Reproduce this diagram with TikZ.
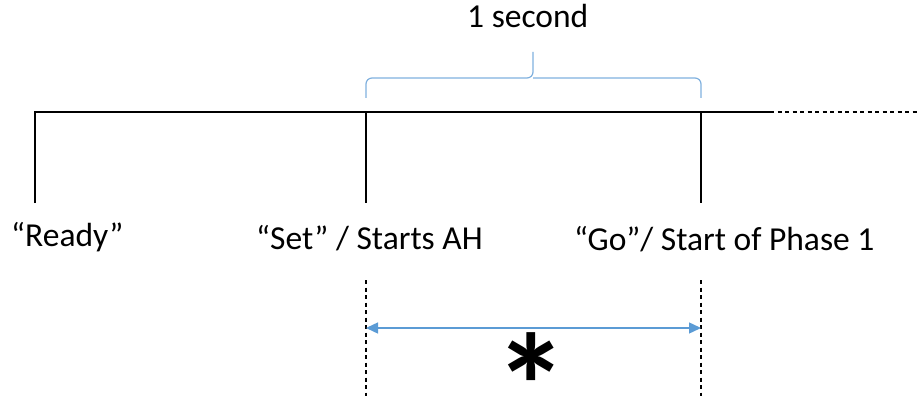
\documentclass[tikz,border=0pt]{standalone}
\usepackage{fontspec}
\setmainfont{Carlito}
\usetikzlibrary{arrows.meta}
\definecolor{obl}{HTML}{5B9BD5}
\definecolor{bbr}{HTML}{7FB0DE}
\tikzset{
  lbl/.style={inner sep=0pt, font=\fontsize{33.5}{36}\selectfont},
  tl/.style={draw=black, line width=1.3pt},
  dl/.style={draw=black, line width=1.1pt, dash pattern=on 4pt off 3.5pt},
  brace/.style={draw=bbr, line width=1.2pt, rounded corners=6pt},
  dim/.style={draw=obl, line width=1.4pt, {Triangle[length=12pt,width=11pt]}-{Triangle[length=12pt,width=11pt]}}
}
\begin{document}
\begin{tikzpicture}[x=1pt,y=-1pt]
\useasboundingbox (0,0) rectangle (919,396);
% timeline
\coordinate (L0) at (35,112);
\coordinate (L1) at (366,112);
\coordinate (L2) at (701,112);
\coordinate (L3) at (770,112);
\coordinate (L4) at (918,112);
\coordinate (B0) at (35,203);
\coordinate (B1) at (366,203);
\coordinate (B2) at (701,203);
\coordinate (D1a) at (366,280);
\coordinate (D1b) at (366,396);
\coordinate (D2a) at (701,280);
\coordinate (D2b) at (701,396);
\draw[tl] (B0) -- (L0) -- (L3);
\draw[dl] (L3) -- (L4);
\draw[tl] (L1) -- (B1);
\draw[tl] (L2) -- (B2);
\draw[dl] (D1a) -- (D1b);
\draw[dl] (D2a) -- (D2b);
% brace
\coordinate (bl) at (366,98);
\coordinate (br) at (701,98);
\coordinate (bt) at (533,52);
\draw[brace] (bl) -- (366,78) -- (533,78) -- (bt);
\draw[brace] (br) -- (701,78) -- (533,78);
\node[lbl, anchor=base west] (sec) at (467,28) {1 second};
% labels
\node[lbl, anchor=base west] (ready) at (11,246) {“Ready”};
\node[lbl, anchor=base west] (set) at (256,249) {“Set” / Starts AH};
\node[lbl, anchor=base west] (go) at (574,250) {“Go”/ Start of Phase 1};
% dimension arrow
\coordinate (a1) at (366,328);
\coordinate (a2) at (701,328);
\draw[dim] (a1) -- (a2);
\node[inner sep=0pt, anchor=north, font=\fontsize{148}{148}\bfseries\selectfont] (ast) at (531,332) {\raisebox{0pt}[\height][-45pt]{*}};
\end{tikzpicture}
\end{document}
